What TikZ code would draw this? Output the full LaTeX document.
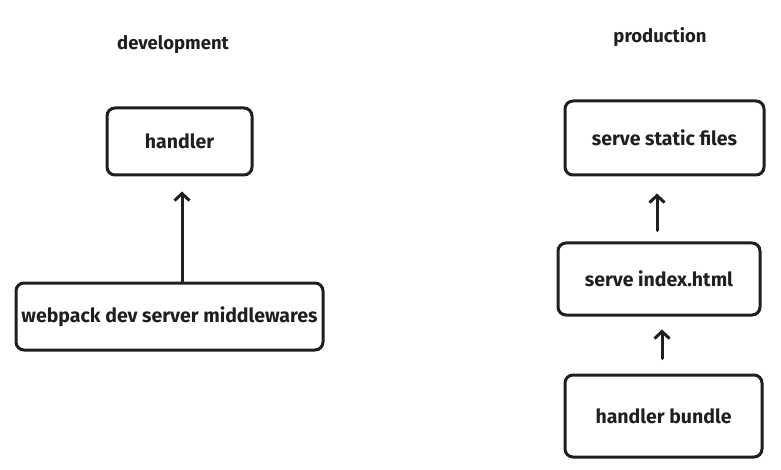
\documentclass[tikz,border=0pt]{standalone}
\usepackage{fontspec}
\setmainfont{Fira Sans}
\usetikzlibrary{arrows.meta}
\begin{document}
\begin{tikzpicture}[x=1pt,y=-1pt,
  box/.style={draw=black!88,line width=3pt,rounded corners=8pt,inner sep=0pt,font=\fontsize{19.5}{22}\selectfont\bfseries,text=black!88},
  ttl/.style={font=\fontsize{18.5}{20}\selectfont\bfseries,text=black!88},
  arr/.style={draw=black!88,line width=3pt,line cap=round,-{Straight Barb[length=7pt,width=15pt,line width=3pt]}}]
\useasboundingbox (0,0) rectangle (781,470);
\node[ttl] (dev) at (173,45) {development};
\node[ttl] (prod) at (660,37) {production};
\node[box,minimum width=145pt,minimum height=67pt] (handler) at (179.5,141.5) {handler};
\node[box,minimum width=307pt,minimum height=67pt] (webpack) at (169.5,316.5) {webpack dev server middlewares};
\node[box,minimum width=199pt,minimum height=74pt] (static) at (664.5,138) {serve static files};
\node[box,minimum width=202pt,minimum height=72pt] (index) at (659,279) {serve index.html};
\node[box,minimum width=197pt,minimum height=82pt] (bundle) at (663.5,416) {handler bundle};
\draw[arr,shorten >=15pt] ([xshift=12.5pt]webpack.north) -- ([xshift=12.5pt]webpack.north |- handler.south);
\draw[arr,shorten <=11pt,shorten >=17pt] ([xshift=-2pt]index.north) -- ([xshift=-2pt]index.north |- static.south);
\draw[arr,shorten <=15pt,shorten >=13pt] ([xshift=-1.5pt]bundle.north) -- ([xshift=-1.5pt]bundle.north |- index.south);
\end{tikzpicture}
\end{document}
